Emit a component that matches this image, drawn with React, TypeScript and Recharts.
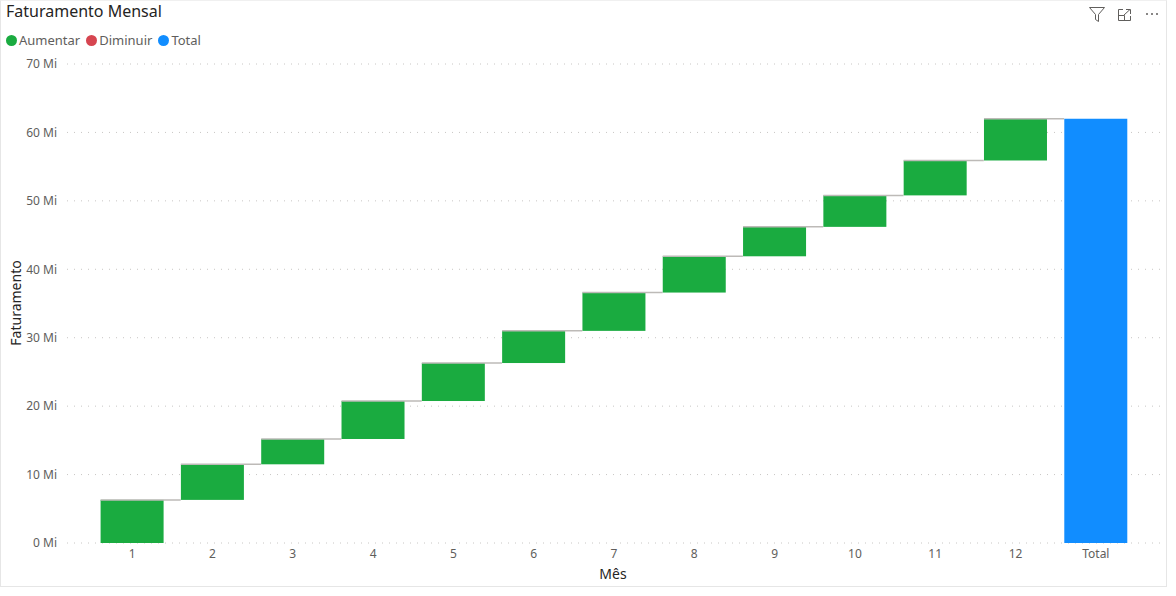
import { Bar, BarChart, CartesianGrid, XAxis, YAxis } from "recharts";

const GREEN = "#1AAB40";
const RED = "#D64550";
const BLUE = "#118DFF";
const CONNECTOR = "#BDBAB7";
const FONT = '"Segoe UI", "Noto Sans", "Open Sans", sans-serif';

// monthly revenue (Mi = milhões)
const MONTHS = ["1", "2", "3", "4", "5", "6", "7", "8", "9", "10", "11", "12"];
const MONTHLY_MI = [6.3, 5.2, 3.7, 5.55, 5.55, 4.7, 5.6, 5.3, 4.3, 4.6, 5.1, 6.1];
const TOTAL_LABEL = "Total";
const Y_TICKS = [0, 10, 20, 30, 40, 50, 60, 70];

const LEGEND_ITEMS = [
  { name: "Aumentar", color: GREEN },
  { name: "Diminuir", color: RED },
  { name: "Total", color: BLUE },
];

const GAP_RATIO = 0.107;

type Row = { name: string; base: number; inc: number; dec: number; total: number };

function buildRows(): Row[] {
  const rows: Row[] = [];
  let running = 0;
  MONTHS.forEach((m, i) => {
    const v = MONTHLY_MI[i];
    if (v >= 0) {
      rows.push({ name: m, base: running, inc: v, dec: 0, total: 0 });
    } else {
      rows.push({ name: m, base: running + v, inc: 0, dec: -v, total: 0 });
    }
    running += v;
  });
  rows.push({ name: TOTAL_LABEL, base: 0, inc: 0, dec: 0, total: running });
  return rows;
}

const DATA = buildRows();

function StepShape(props: any) {
  const { x, y, width, height, fill, value } = props;
  const v = Array.isArray(value) ? value[1] - value[0] : value;
  if (!v || !width) return <g />;
  const band = width / (1 - 2 * GAP_RATIO);
  return (
    <g>
      <rect x={x} y={y} width={width} height={height} fill={fill} />
      <line
        x1={x}
        x2={x + band}
        y1={y}
        y2={y}
        stroke={CONNECTOR}
        strokeWidth={1.5}
      />
    </g>
  );
}

function Icons() {
  return (
    <svg
      width={90}
      height={26}
      style={{ position: "absolute", left: 1084, top: 1 }}
    >
      <path
        d="M5.5 6.5 H20.5 L14.5 13.5 V20.5 L11.5 18.5 V13.5 Z"
        fill="none"
        stroke="#605E5C"
        strokeWidth={1}
      />
      <g fill="none" stroke="#605E5C" strokeWidth={1}>
        <path d="M34.5 8.5 V19.5 H46.5 V15" />
        <path d="M34.5 8.5 H39" />
        <path d="M42 8.5 H46.5 V13" />
        <path d="M40 14 L46 8.5" />
        <path d="M34.5 14.5 H40.5 V19.5" />
      </g>
      <g fill="#605E5C">
        <circle cx={63} cy={13} r={1} />
        <circle cx={68} cy={13} r={1} />
        <circle cx={73} cy={13} r={1} />
      </g>
    </svg>
  );
}

export default function App() {
  return (
    <div
      style={{
        position: "absolute",
        left: 0,
        top: 0,
        width: 1176,
        height: 596,
        background: "#fff",
        fontFamily: FONT,
      }}
    >
      <div
        style={{
          position: "absolute",
          left: 0,
          top: 0,
          width: 1165,
          height: 585,
          border: "1px solid #E6E6E6",
          borderTopColor: "#F0F0F0",
        }}
      />
      <div
        style={{
          position: "absolute",
          left: 6,
          top: 0,
          fontSize: 16,
          color: "#252423",
          lineHeight: "22px",
        }}
      >
        Faturamento Mensal
      </div>
      <Icons />
      <div
        style={{
          position: "absolute",
          left: 6,
          top: 31,
          display: "flex",
          alignItems: "center",
          fontSize: 13,
          color: "#605E5C",
          lineHeight: "18px",
        }}
      >
        {LEGEND_ITEMS.map((it) => (
          <div
            key={it.name}
            style={{ display: "flex", alignItems: "center", marginRight: 6 }}
          >
            <span
              style={{
                width: 11,
                height: 11,
                borderRadius: "50%",
                background: it.color,
                marginRight: 2,
                display: "inline-block",
              }}
            />
            {it.name}
          </div>
        ))}
      </div>
      <div
        style={{
          position: "absolute",
          left: 15,
          top: 303,
          transform: "translate(-50%, -50%) rotate(-90deg)",
          fontSize: 14,
          color: "#252423",
          whiteSpace: "nowrap",
        }}
      >
        Faturamento
      </div>
      <div
        style={{
          position: "absolute",
          left: 613,
          top: 573,
          transform: "translate(-50%, -50%)",
          fontSize: 14,
          color: "#252423",
        }}
      >
        Mês
      </div>
      <div style={{ position: "absolute", left: 0, top: 0 }}>
        <BarChart
          width={1176}
          height={596}
          data={DATA}
          margin={{ top: 64, right: 16, left: 0, bottom: 0 }}
          barCategoryGap={`${GAP_RATIO * 100}%`}
        >
          <CartesianGrid
            vertical={false}
            stroke="#C8C6C4"
            strokeDasharray="1 6"
          />
          <XAxis
            dataKey="name"
            height={53}
            axisLine={false}
            tickLine={false}
            tickSize={0}
            tickMargin={6}
            padding={{ left: 25, right: 24 }}
            interval={0}
            tick={{ fontSize: 12, fill: "#605E5C", fontFamily: FONT }}
          />
          <YAxis
            width={67}
            domain={[0, 70]}
            ticks={Y_TICKS}
            axisLine={false}
            tickLine={false}
            tickSize={0}
            tickMargin={10}
            tickFormatter={(v) => `${v} Mi`}
            tick={{ fontSize: 12, fill: "#605E5C", fontFamily: FONT }}
          />
          <Bar dataKey="base" stackId="w" fill="transparent" isAnimationActive={false} />
          <Bar
            dataKey="inc"
            stackId="w"
            fill={GREEN}
            shape={StepShape}
            isAnimationActive={false}
          />
          <Bar
            dataKey="dec"
            stackId="w"
            fill={RED}
            shape={StepShape}
            isAnimationActive={false}
          />
          <Bar dataKey="total" stackId="w" fill={BLUE} isAnimationActive={false} />
        </BarChart>
      </div>
    </div>
  );
}
